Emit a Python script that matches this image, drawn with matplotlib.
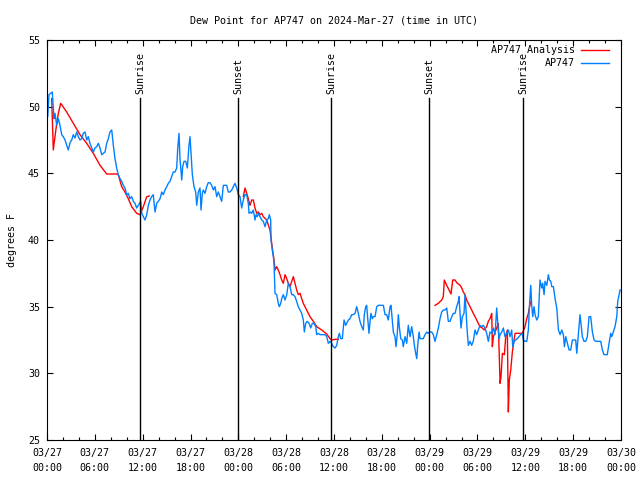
import matplotlib
matplotlib.use('Agg')
import matplotlib.pyplot as plt
from matplotlib.ticker import MultipleLocator

plt.rcParams['font.family'] = ['DejaVu Sans Mono']
plt.rcParams['font.size'] = 7.2

# hours since 2024-03-27 00:00 UTC
obs_hours = [
    0.09, 0.25, 0.66, 0.88, 1.00, 1.22, 1.42, 1.63, 1.84, 2.04, 2.26, 2.47, 2.67, 2.89, 3.10, 3.30,
    3.51, 3.73, 3.93, 4.14, 4.35, 4.55, 4.77, 4.98, 5.18, 5.39, 5.61, 5.81, 6.02, 6.23, 6.44, 6.65,
    6.86, 7.06, 7.28, 7.49, 7.69, 7.90, 8.12, 8.32, 8.53, 8.74, 8.94, 9.16, 9.37, 9.57, 9.78, 10.00,
    10.20, 10.41, 10.62, 10.83, 11.04, 11.25, 11.45, 11.75,
    11.88, 12.08, 12.29, 12.51, 12.71, 12.92, 13.13, 13.33, 13.55, 13.76, 13.96, 14.18, 14.39, 14.59,
    14.80, 15.02, 15.22, 15.43, 15.64, 15.84, 16.06, 16.27, 16.40, 16.56, 16.68, 16.90, 17.02, 17.19,
    17.40, 17.60, 17.81, 17.94, 18.06, 18.23, 18.44, 18.65, 18.78, 18.98, 19.19, 19.32, 19.48, 19.61,
    19.82, 20.03, 20.23, 20.45, 20.66, 20.86, 21.07, 21.29, 21.49, 21.70, 21.91, 22.12, 22.33, 22.54,
    22.74, 22.96, 23.17, 23.37, 23.58, 23.80, 24.00, 24.21,
    24.42, 24.62, 24.84, 25.05, 25.25, 25.34, 25.55, 25.68, 25.88, 26.09, 26.22, 26.38, 26.51, 26.72,
    26.93, 27.13, 27.35, 27.56, 27.76, 27.89, 28.06, 28.10, 28.26, 28.39, 28.48, 28.60, 28.81, 29.01,
    29.14, 29.32, 29.44, 29.64, 29.86, 30.07, 30.27, 30.48, 30.70, 30.90, 31.11, 31.32, 31.52, 31.74,
    31.95, 32.15, 32.28, 32.45, 32.65, 32.87, 33.08, 33.28, 33.49, 33.71, 33.83, 34.03, 34.25, 34.46,
    34.66, 34.87, 35.09, 35.29, 35.50,
    35.71, 35.91, 36.13, 36.34, 36.54, 36.67, 36.84, 37.04, 37.26, 37.47, 37.59, 37.80, 38.01, 38.22,
    38.42, 38.64, 38.85, 39.05, 39.26, 39.48, 39.68, 39.80, 39.98, 40.10, 40.23, 40.39, 40.52, 40.64,
    40.81, 40.93, 41.15, 41.36, 41.56, 41.77, 41.99, 42.19, 42.40, 42.61, 42.81, 43.03, 43.15, 43.32,
    43.44, 43.65, 43.78, 43.94, 44.07, 44.19, 44.37, 44.57, 44.69, 44.91, 45.12, 45.32, 45.54, 45.75,
    45.95, 46.08, 46.25, 46.38, 46.50, 46.67, 46.79, 47.00, 47.20, 47.42, 47.63, 47.83,
    48.05, 48.26, 48.46, 48.67, 48.89, 49.09, 49.30, 49.51, 49.71, 49.93, 50.14, 50.34, 50.55, 50.77,
    50.97, 51.18, 51.39, 51.60, 51.68, 51.81, 51.93, 52.10, 52.31, 52.43, 52.56, 52.68, 52.85, 53.06,
    53.27, 53.47, 53.69, 53.90, 54.10, 54.31, 54.53, 54.73, 54.94, 55.15, 55.36, 55.57, 55.79, 55.99,
    56.20, 56.41, 56.54, 56.70, 56.83, 57.04, 57.24, 57.45, 57.67, 57.87, 58.08, 58.29, 58.42, 58.59,
    58.80, 58.99, 59.21, 59.42, 59.62,
    59.75, 59.96, 60.18, 60.38, 60.50, 60.68, 60.80, 60.93, 61.09, 61.22, 61.43, 61.63, 61.84, 62.06,
    62.18, 62.35, 62.47, 62.69, 62.89, 63.02, 63.19, 63.32, 63.52, 63.73, 63.94, 64.15, 64.36, 64.57,
    64.77, 64.90, 65.07, 65.28, 65.49, 65.69, 65.90, 66.11, 66.32, 66.45, 66.65, 66.86, 66.98, 67.15,
    67.36, 67.58, 67.78, 67.99, 68.20, 68.41, 68.62, 68.83, 69.03, 69.25, 69.46, 69.66, 69.87, 70.08,
    70.28, 70.50, 70.71, 70.84, 71.04, 71.25, 71.47, 71.59, 71.76, 71.88, 72.00,
]
obs_dewpt = [
    49.25, 50.9, 51.1, 49.1, 49.5, 48.6, 49.1, 48.6, 47.9, 47.75, 47.5, 47.1, 46.75, 47.3, 47.5, 47.9,
    47.65, 48.1, 47.75, 47.5, 47.6, 48.0, 48.1, 47.5, 47.75, 47.25, 46.9, 46.6, 46.9, 47.0, 47.25, 46.9,
    46.4, 46.5, 46.6, 47.25, 47.6, 48.1, 48.25, 47.1, 46.1, 45.4, 44.9, 44.6, 44.4, 44.1, 43.9, 43.4,
    43.5, 43.1, 43.25, 42.9, 42.75, 42.4, 42.6, 42.9,
    42.0, 41.75, 41.5, 41.9, 42.6, 43.0, 43.25, 43.4, 42.1, 42.75, 42.9, 43.1, 43.6, 43.4,
    43.75, 44.0, 44.25, 44.4, 44.75, 45.1, 45.1, 45.4, 46.9, 48.0, 46.1, 44.5, 45.5, 45.9,
    45.9, 45.4, 47.1, 47.75, 46.6, 44.9, 44.0, 43.6, 42.6, 43.6, 43.9, 42.25, 43.5, 43.75,
    43.5, 44.0, 44.3, 44.3, 44.1, 43.75, 44.0, 43.25, 43.6, 43.25, 42.9, 44.1, 44.1, 44.1,
    43.6, 43.6, 43.75, 44.0, 44.25, 43.9, 43.4, 43.25,
    42.4, 43.0, 43.4, 43.4, 42.75, 42.0, 42.1, 42.0, 42.25, 41.5, 41.9, 41.75, 42.0, 41.75,
    41.5, 41.4, 41.0, 41.5, 41.6, 41.9, 41.5, 40.0, 39.25, 38.75, 38.25, 36.0, 35.9, 35.25,
    35.0, 35.25, 35.6, 35.9, 35.5, 35.9, 36.75, 36.5, 35.9, 35.9, 35.75, 35.4, 35.0, 34.75,
    34.5, 34.0, 33.1, 33.75, 33.9, 33.75, 33.4, 33.75, 33.75, 33.5, 32.9, 33.0, 32.9, 32.9,
    32.9, 32.9, 32.75, 32.25, 32.4,
    32.25, 32.0, 31.9, 32.1, 32.75, 33.0, 32.6, 32.6, 34.0, 33.6, 33.75, 34.0, 34.1, 34.4,
    34.4, 34.5, 35.0, 34.5, 33.9, 33.5, 33.25, 34.4, 35.0, 35.1, 34.1, 33.0, 33.9, 34.5,
    34.1, 34.25, 34.25, 35.0, 35.1, 35.1, 35.1, 35.1, 34.4, 34.4, 34.0, 35.0, 35.1, 33.9,
    33.1, 32.75, 32.0, 33.0, 34.4, 33.5, 32.6, 32.5, 32.0, 32.75, 32.25, 33.6, 32.75, 33.5,
    32.75, 32.1, 31.5, 31.1, 32.1, 33.1, 32.6, 32.6, 32.6, 32.9, 33.1, 33.0,
    33.1, 33.1, 32.9, 32.4, 32.9, 33.4, 34.1, 34.6, 34.75, 34.75, 34.9, 33.9, 33.9, 34.25,
    34.5, 34.5, 35.0, 35.4, 35.75, 34.5, 33.4, 34.25, 34.5, 35.9, 34.75, 33.4, 32.1, 32.4,
    32.1, 32.4, 33.25, 32.9, 33.25, 33.6, 33.5, 33.6, 33.4, 33.0, 32.4, 33.1, 33.0, 33.4,
    32.9, 34.9, 33.75, 32.6, 32.9, 33.1, 33.4, 32.75, 33.0, 33.25, 32.75, 33.25, 32.0, 32.4,
    32.5, 32.6, 32.75, 32.9, 33.0,
    32.5, 32.4, 32.4, 33.25, 34.9, 36.6, 35.1, 34.25, 35.0, 34.4, 34.0, 34.25, 37.0, 36.4,
    36.75, 35.9, 36.9, 36.6, 37.4, 37.0, 36.9, 36.5, 36.5, 35.6, 34.9, 33.25, 32.9, 33.25,
    32.9, 32.0, 32.75, 32.25, 31.75, 31.75, 32.5, 32.5, 32.5, 31.5, 32.9, 34.4, 33.75, 32.75,
    32.4, 32.4, 32.75, 34.25, 34.25, 33.1, 32.5, 32.4, 32.4, 32.4, 32.4, 31.75, 31.4, 31.4,
    31.4, 32.25, 33.0, 32.75, 33.1, 33.5, 34.25, 35.4, 35.9, 36.25, 36.25,
]

# analysis series comes in three separate runs
ana_hours_1 = [0.59, 0.79, 1.00, 1.22, 1.42, 1.72, 2.47, 3.30, 4.14, 4.98, 5.81, 6.65, 7.49, 8.74,
               8.94, 9.37, 9.78, 10.20, 10.62, 11.25, 11.67, 12.08, 12.51, 12.83]
ana_dewpt_1 = [50.6, 46.75, 47.75, 48.75, 49.5, 50.25, 49.6, 48.75, 47.9, 47.25, 46.5, 45.6, 44.95, 44.95,
               44.9, 44.0, 43.6, 43.1, 42.5, 42.0, 41.9, 42.5, 43.25, 43.3]
ana_hours_2 = [24.62, 24.84, 25.05, 25.25, 25.46, 25.68, 25.88, 26.09, 26.31, 26.51, 26.72, 26.93, 27.13,
               27.56, 27.97, 28.26, 28.48, 28.60, 28.81, 29.01, 29.23, 29.44, 29.64, 29.86, 30.07, 30.27,
               30.48, 30.70, 30.90, 31.11, 31.32, 31.52, 31.74, 31.95, 32.15, 32.57, 32.99, 33.41, 33.83,
               34.46, 35.09, 35.50, 35.71, 36.13, 36.54]
ana_dewpt_2 = [43.25, 43.9, 43.5, 43.1, 42.6, 43.0, 43.0, 42.4, 42.0, 42.1, 41.9, 42.0, 41.75,
               41.5, 40.75, 39.4, 38.5, 37.75, 38.0, 37.75, 37.4, 37.0, 36.75, 37.4, 37.1, 36.75,
               36.5, 36.9, 37.25, 36.75, 36.25, 35.9, 36.0, 35.6, 35.25, 34.75, 34.25, 33.9, 33.5,
               33.25, 32.95, 32.6, 32.5, 32.55, 32.55]
ana_hours_3 = [48.67, 49.09, 49.51, 49.71, 49.84, 50.14, 50.43, 50.68, 50.89, 51.18, 51.39, 51.81, 52.02,
               52.22, 52.43, 52.64, 52.85, 53.06, 53.27, 53.47, 53.69, 53.90, 54.10, 54.31, 54.60, 54.85,
               55.15, 55.36, 55.57, 55.79, 55.86, 55.99, 56.20, 56.41, 56.61, 56.83, 56.95, 57.12, 57.37,
               57.54, 57.74, 57.87, 57.99, 58.17, 58.37, 58.49, 58.71, 59.33, 59.62, 59.96, 60.18, 60.38,
               60.50, 60.68]
ana_dewpt_3 = [35.1, 35.25, 35.5, 35.75, 37.0, 36.6, 36.25, 35.95, 37.0, 37.0, 36.8, 36.6, 36.4,
               36.1, 35.9, 35.5, 35.25, 35.0, 34.75, 34.5, 34.25, 34.0, 33.75, 33.5, 33.4, 33.25,
               33.5, 33.9, 34.1, 34.5, 32.0, 32.75, 33.1, 33.4, 33.75, 29.25, 29.75, 31.5, 31.4,
               32.75, 33.25, 27.1, 29.5, 30.25, 31.6, 32.1, 33.0, 33.0, 33.0, 33.5, 34.1, 34.5,
               34.9, 35.4]

sun_hours = [11.67, 23.96, 35.63, 47.92, 59.71]
sun_labels = ['Sunrise', 'Sunset', 'Sunrise', 'Sunset', 'Sunrise']

tick_hours = [0, 6, 12, 18, 24, 30, 36, 42, 48, 54, 60, 66, 72]
tick_labels = ['03/27\n00:00', '03/27\n06:00', '03/27\n12:00', '03/27\n18:00',
               '03/28\n00:00', '03/28\n06:00', '03/28\n12:00', '03/28\n18:00',
               '03/29\n00:00', '03/29\n06:00', '03/29\n12:00', '03/29\n18:00',
               '03/30\n00:00']

RED = '#ff0000'
BLUE = '#0080ff'

fig = plt.figure(figsize=(6.4, 4.8), dpi=100)
ax = fig.add_axes([47 / 640, 1 - 440 / 480, (621 - 47) / 640, 400 / 480])

ax.plot(ana_hours_1, ana_dewpt_1, color=RED, lw=1)
ax.plot(ana_hours_2, ana_dewpt_2, color=RED, lw=1)
ax.plot(ana_hours_3, ana_dewpt_3, color=RED, lw=1)
ax.plot(obs_hours, obs_dewpt, color=BLUE, lw=1)

for h, lab in zip(sun_hours, sun_labels):
    ax.plot([h, h], [25, 50.65], color='black', lw=1)
    ax.text(h, 50.95, lab, rotation=90, ha='center', va='bottom')

ax.set_xlim(0, 72)
ax.set_ylim(25, 55)
ax.set_xticks(tick_hours)
ax.set_xticklabels(tick_labels, linespacing=1.55)
ax.xaxis.set_minor_locator(MultipleLocator(2))
ax.set_yticks([25, 30, 35, 40, 45, 50, 55])
ax.tick_params(which='both', direction='in', top=True, right=True, width=0.8)
ax.tick_params(which='major', length=4.5)
ax.tick_params(axis='x', which='major', pad=6)
ax.tick_params(axis='y', which='major', pad=5)
ax.tick_params(which='minor', length=2.5)
for s in ax.spines.values():
    s.set_linewidth(0.8)

ax.set_ylabel('degrees F', labelpad=8)
ax.set_title('Dew Point for AP747 on 2024-Mar-27 (time in UTC)', fontsize=7.2, pad=12)

# gnuplot-style key: right-justified text, sample line to the right
key_items = [('AP747 Analysis', RED), ('AP747', BLUE)]
for i, (lab, col) in enumerate(key_items):
    y = 0.975 - i * 0.032
    ax.text(0.920, y, lab, transform=ax.transAxes, ha='right', va='center')
    ax.plot([0.930, 0.979], [y, y], color=col, lw=1, transform=ax.transAxes)

fig.savefig('out.png', dpi=100)
